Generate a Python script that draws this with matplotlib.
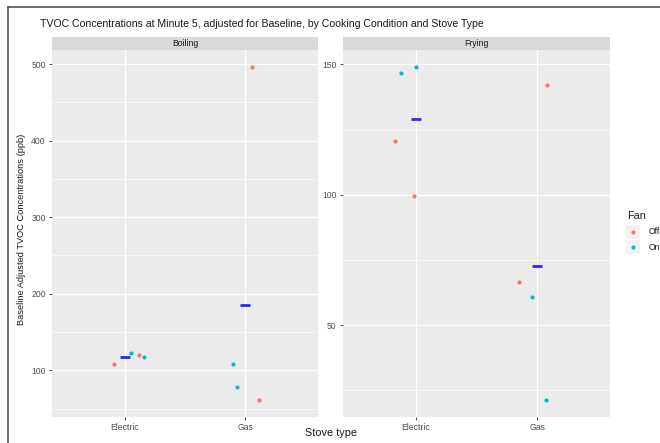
import matplotlib.pyplot as plt
from matplotlib.lines import Line2D
from matplotlib.patches import Rectangle

# TVOC at minute 5, baseline adjusted (ppb)
stoves = ['Electric', 'Gas']
fan_levels = ['Off', 'On']

boil_electric_off = [108.8, 119.6]
boil_electric_on = [122.0, 117.5]
boil_gas_off = [496.5, 60.8]
boil_gas_on = [107.8, 77.8]

fry_electric_off = [120.7, 99.6]
fry_electric_on = [146.5, 149.1]
fry_gas_off = [142.2, 66.6]
fry_gas_on = [60.7, 21.2]

# horizontal jitter used when the points were drawn
jit_boil = {('Electric', 'Off'): [-0.09, 0.121], ('Electric', 'On'): [0.052, 0.165],
            ('Gas', 'Off'): [0.058, 0.116], ('Gas', 'On'): [-0.10, -0.069]}
jit_fry = {('Electric', 'Off'): [-0.168, -0.019], ('Electric', 'On'): [-0.126, 0.0],
           ('Gas', 'Off'): [0.083, -0.149], ('Gas', 'On'): [-0.041, 0.074]}

panels = {
    'Boiling': {('Electric', 'Off'): boil_electric_off, ('Electric', 'On'): boil_electric_on,
                ('Gas', 'Off'): boil_gas_off, ('Gas', 'On'): boil_gas_on},
    'Frying': {('Electric', 'Off'): fry_electric_off, ('Electric', 'On'): fry_electric_on,
               ('Gas', 'Off'): fry_gas_off, ('Gas', 'On'): fry_gas_on},
}
jitters = {'Boiling': jit_boil, 'Frying': jit_fry}
yticks = {'Boiling': [100, 200, 300, 400, 500], 'Frying': [50, 100, 150]}

fan_colors = {'Off': '#F8766D', 'On': '#00BFC4'}
plt.rcParams['font.family'] = ['Liberation Sans', 'DejaVu Sans']

fig = plt.figure(figsize=(6.6, 4.43), dpi=100)
W, H = 660, 443

def px_axes(x0, y0, x1, y1):
    return fig.add_axes([x0 / W, 1 - y1 / H, (x1 - x0) / W, (y1 - y0) / H])

boxes = {'Boiling': (52, 318), 'Frying': (343, 610)}
for name, (x0, x1) in boxes.items():
    ax = px_axes(x0, 50, x1, 417)
    ax.set_facecolor('#EBEBEB')
    vals = []
    for si, stove in enumerate(stoves):
        group = []
        for fan in fan_levels:
            ys = panels[name][(stove, fan)]
            xs = [si + 1 + j for j in jitters[name][(stove, fan)]]
            ax.scatter(xs, ys, s=9, color=fan_colors[fan], zorder=3, linewidths=0)
            group += ys
        vals += group
        ax.plot([si + 1], [sum(group) / len(group)], marker='_', ms=7, mew=2,
                color='#2B2BF0', zorder=4)
    ax.set_xticks([1, 2])
    ax.set_xticklabels(stoves)
    ax.set_yticks(yticks[name])
    mt = yticks[name]
    step = mt[1] - mt[0]
    minors = [mt[0] - step / 2] + [t + step / 2 for t in mt]
    ax.set_yticks(minors, minor=True)
    # ggplot-style 5% padding around the data
    lo, hi = min(vals), max(vals)
    pad = (hi - lo) * 0.05
    ax.set_ylim(lo - pad, hi + pad)
    ax.set_xlim(0.4, 2.6)
    ax.grid(True, which='major', color='white', lw=0.9)
    ax.grid(True, which='minor', axis='y', color='white', lw=0.45)
    ax.set_axisbelow(True)
    for sp in ax.spines.values():
        sp.set_visible(False)
    ax.tick_params(which='major', length=2.5, width=0.6, color='#333333',
                   labelsize=6.2, labelcolor='#4D4D4D', pad=2)
    ax.tick_params(which='minor', length=0)
    strip = px_axes(x0, 37, x1, 50)
    strip.set_facecolor('#D9D9D9')
    strip.set_xticks([])
    strip.set_yticks([])
    for sp in strip.spines.values():
        sp.set_visible(False)
    strip.text(0.5, 0.5, name, ha='center', va='center', fontsize=6.2, color='#1A1A1A')

fig.text(40 / W, 1 - 24 / H, 'TVOC Concentrations at Minute 5, adjusted for Baseline, by Cooking Condition and Stove Type',
         ha='left', va='center', fontsize=7.6, color='#1A1A1A')
fig.text(22 / W, 1 - 229 / H, 'Baseline Adjusted TVOC Concentrations (ppb)', rotation=90,
         ha='center', va='center', fontsize=6.7, color='#1A1A1A')
fig.text(331 / W, 1 - 433 / H, 'Stove type', ha='center', va='center', fontsize=7.8, color='#1A1A1A')

# legend
fig.text(627 / W, 1 - 216 / H, 'Fan', ha='left', va='center', fontsize=7.8, color='#1A1A1A')
for i, fan in enumerate(fan_levels):
    yc = 232 + 15 * i
    fig.patches.append(Rectangle((626 / W, 1 - (yc + 7) / H), 14 / W, 14 / H,
                                 transform=fig.transFigure, facecolor='#F2F2F2', edgecolor='none'))
    fig.add_artist(Line2D([633 / W], [1 - yc / H], marker='o', ms=3, color=fan_colors[fan],
                          mec='none', transform=fig.transFigure))
    fig.text(649 / W, 1 - yc / H, fan, ha='left', va='center', fontsize=6.2, color='#1A1A1A')

# window border
fig.add_artist(Line2D([8 / W, 1], [1 - 7 / H, 1 - 7 / H], color='#555555', lw=1.2,
                      transform=fig.transFigure))
fig.add_artist(Line2D([8 / W, 8 / W], [0, 1 - 7 / H], color='#555555', lw=1.2,
                      transform=fig.transFigure))

fig.savefig('out.png', dpi=100)
